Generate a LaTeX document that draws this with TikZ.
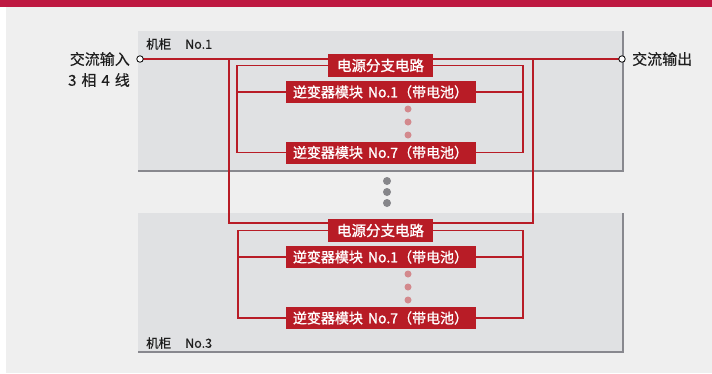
\documentclass[tikz,border=0pt]{standalone}
\usepackage{fontspec}
\setmainfont{Noto Sans CJK SC}
\newfontfamily\medfont[FakeBold=1.2]{Noto Sans CJK SC}
\newfontfamily\lblfont[FakeBold=0.4]{Noto Sans CJK SC}
\definecolor{topbar}{HTML}{BE1841}
\definecolor{bgcol}{HTML}{EFEFEF}
\definecolor{cabfill}{HTML}{E0E1E3}
\definecolor{cabedge}{HTML}{88888E}
\definecolor{wred}{HTML}{B81C26}
\definecolor{pinkdot}{HTML}{D3898D}
\definecolor{graydot}{HTML}{86868A}
\definecolor{txt}{HTML}{1E1E1E}
\tikzset{
  redbox/.style={fill=wred,text=white,inner sep=0pt,minimum height=22pt,font=\fontsize{14}{16}\medfont},
  invbox/.style={redbox,minimum width=190pt},
  brbox/.style={redbox,minimum width=105pt,minimum height=23pt,font=\fontsize{14.5}{16}\medfont},
  wire/.style={draw=wred,line width=1.9pt},
  term/.style={circle,draw=black,fill=white,line width=0.8pt,minimum size=6.5pt,inner sep=0pt},
  lbl/.style={text=txt,inner sep=0pt,font=\fontsize{15}{17}\lblfont},
  cablbl/.style={text=txt,inner sep=0pt,anchor=west,font=\fontsize{12.5}{14}\lblfont},
  cab/.style={fill=cabfill},
  cabline/.style={draw=cabedge,line width=1.2pt},
  pdot/.style={fill=pinkdot},
  gdot/.style={fill=graydot}
}
\begin{document}
\begin{tikzpicture}[x=1pt,y=-1pt]
\useasboundingbox (0,0) rectangle (712,373);
% background and cabinets
\fill[bgcol] (6,6) rectangle (712,373);
\fill[topbar] (0,0) rectangle (712,6.5);
\fill[cab] (138,31) rectangle (623,171);
\draw[cabline] (623,31) -- (623,171) -- (138,171);
\fill[cab] (138,213) rectangle (623,352);
\draw[cabline,line width=1.8pt] (623,213) -- (623,352) -- (138,352);
% frame coordinates
\coordinate (inP) at (140,59);
\coordinate (outP) at (622,59);
\coordinate (oTL) at (229,59);
\coordinate (oTR) at (533,59);
\coordinate (oBL) at (229,223);
\coordinate (oBR) at (533,223);
\coordinate (b1) at (380.5,65.5);
\coordinate (a1) at (380.5,92);
\coordinate (c1) at (380.5,152.5);
\coordinate (b3) at (380.5,230.5);
\coordinate (a3) at (380.5,257);
\coordinate (c3) at (380.5,318);
% main line and outer frame
\draw[wire] (inP) -- (outP);
\draw[wire] (oTL) -- (oBL) -- (oBR) -- (oTR);
% inner frame 1
\draw[wire] (b1) -- (237,65.5) -- (237,152.5) -- (c1) -- (523,152.5) -- (523,65.5) -- cycle;
\draw[wire] (237,92) -- (523,92);
% inner frame 3
\draw[wire] (b3) -- (238,230.5) -- (238,318) -- (c3) -- (523,318) -- (523,230.5) -- cycle;
\draw[wire] (238,257) -- (523,257);
% terminals
\node[term] (inpt) at (inP) {};
\node[term] (outpt) at (outP) {};
\node[lbl,anchor=east] (inlbl1) at (130,59) {交流输入};
\node[lbl,anchor=east] (inlbl2) at (130,80) {3\hspace{5pt}相\hspace{5pt}4\hspace{5pt}线};
\node[lbl,anchor=west] (outlbl) at (632,59) {交流输出};
% cabinet labels
\node[cablbl] (cab1lbl) at (146,44) {机柜\hspace{14pt}No.1};
\node[cablbl] (cab3lbl) at (146,343) {机柜\hspace{14pt}No.3};
% boxes
\node[brbox] (br1) at (b1) {电源分支电路};
\node[invbox] (i1a) at (a1) {逆变器模块\hspace{5pt}No.1（带电池）};
\node[invbox] (i1b) at (c1) {逆变器模块\hspace{5pt}No.7（带电池）};
\node[brbox] (br3) at (b3) {电源分支电路};
\node[invbox] (i3a) at (a3) {逆变器模块\hspace{5pt}No.1（带电池）};
\node[invbox] (i3b) at (c3) {逆变器模块\hspace{5pt}No.7（带电池）};
% dots
\foreach \yy in {109,122,135,274,287,300} \fill[pdot] (408,\yy) circle (3.5pt);
\foreach \yy in {181,192,203} \fill[gdot] (387,\yy) circle (4pt);
\end{tikzpicture}
\end{document}
